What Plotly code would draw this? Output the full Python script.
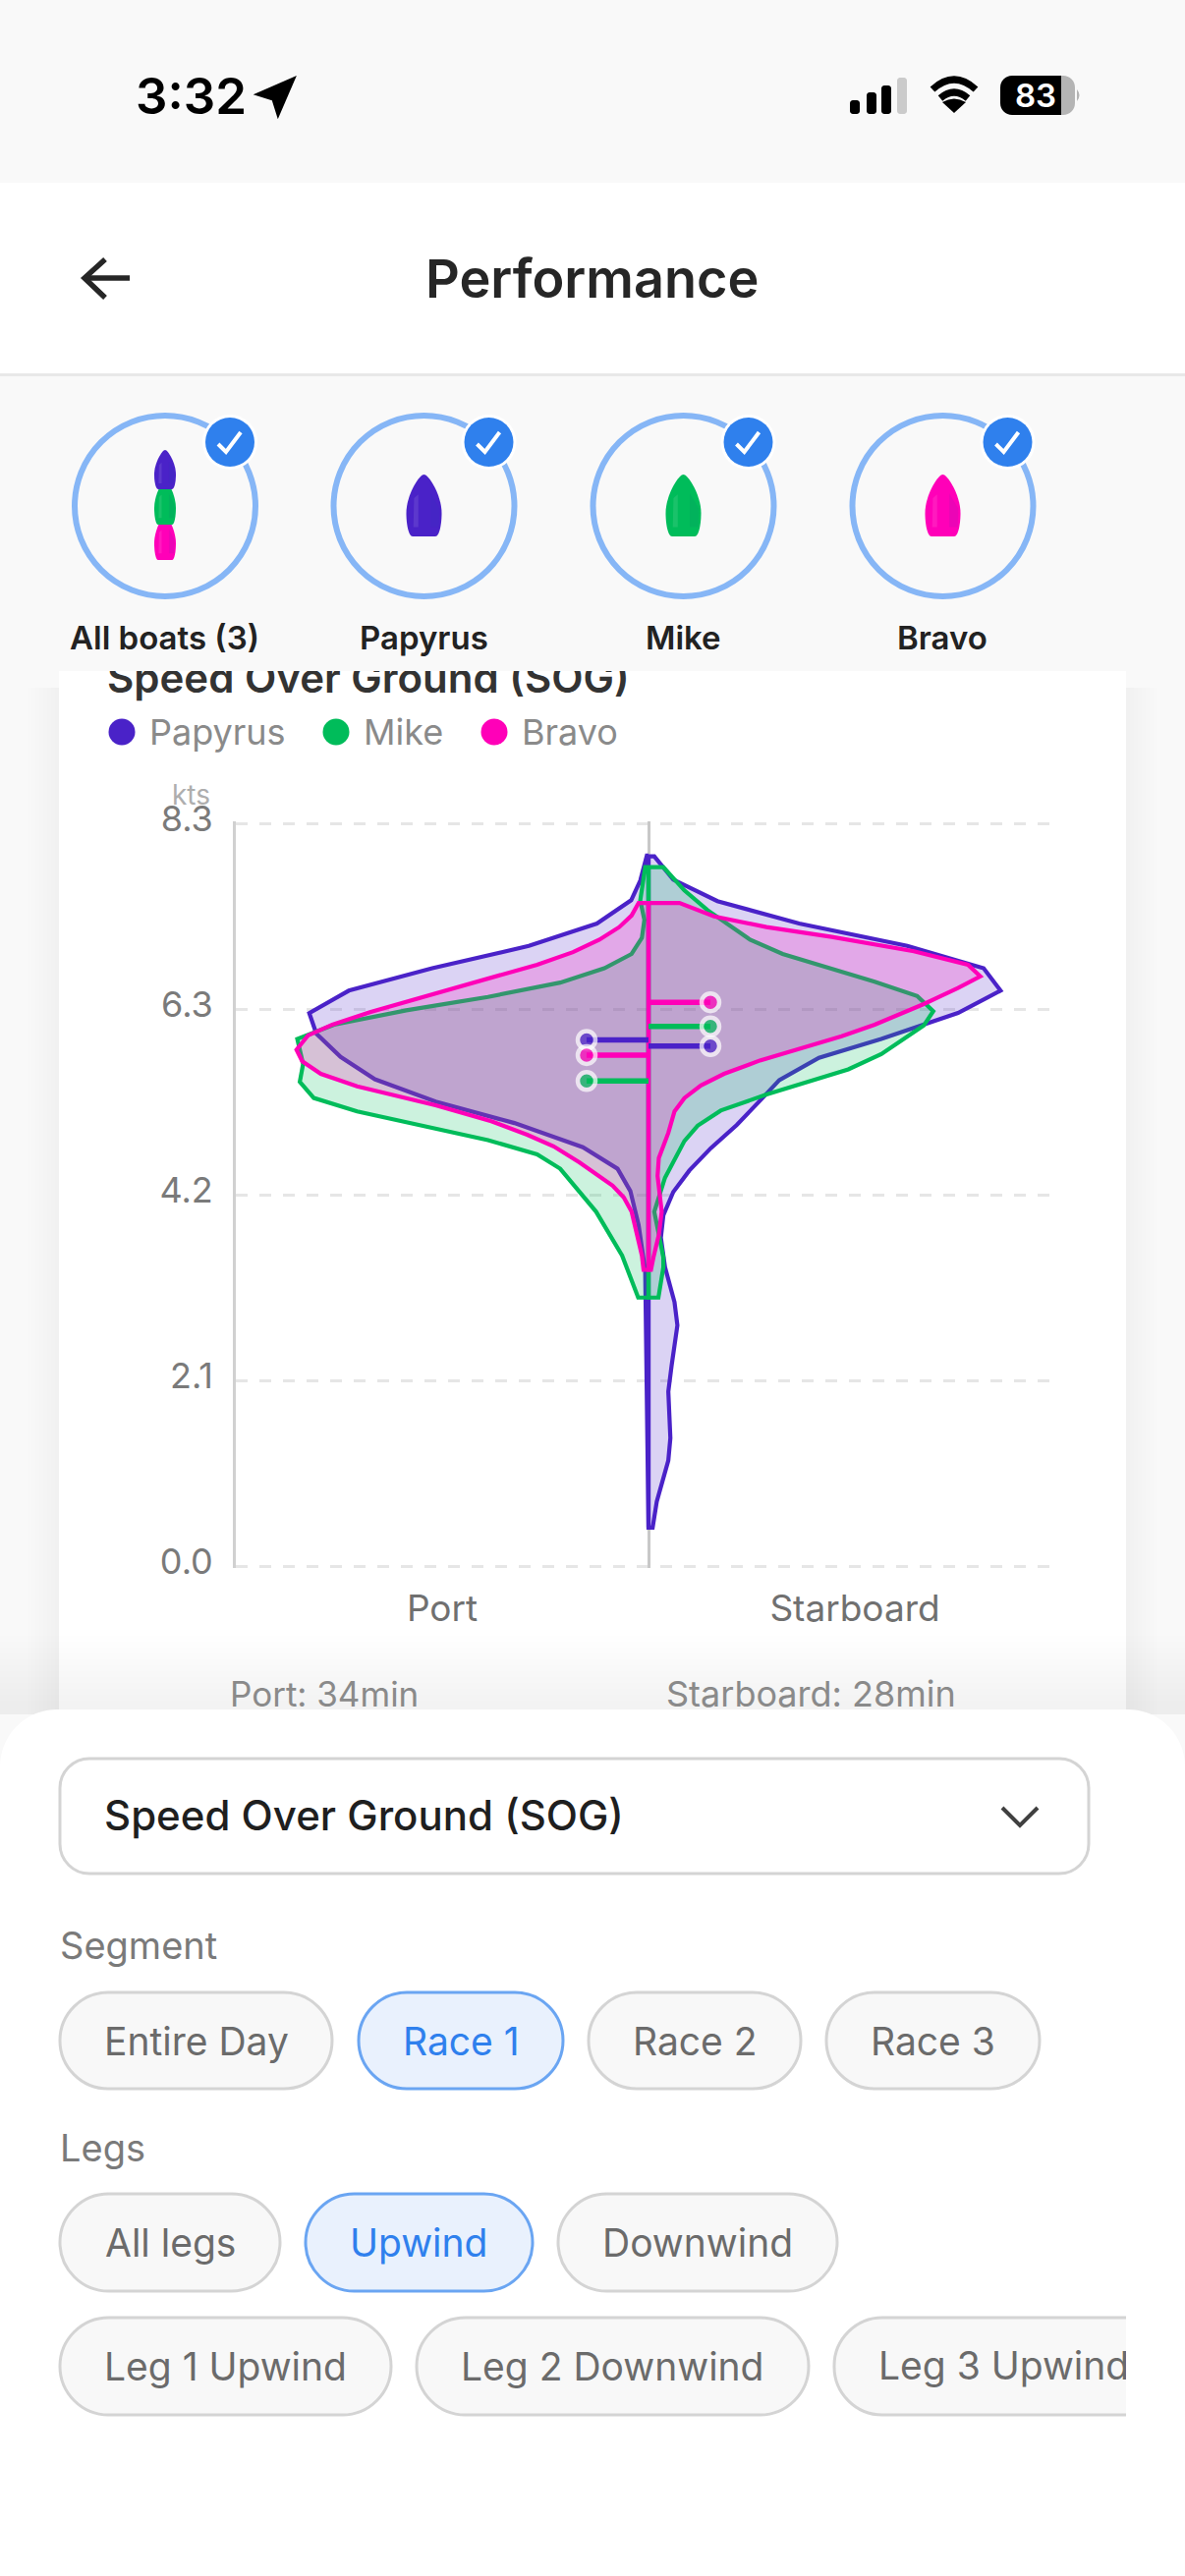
import plotly.graph_objects as go

W = 1206
H = 2622

# Violin outlines: speed in kts and density in % of half width
papyrus_port_kts = [7.94, 7.66, 7.44, 7.18, 6.93, 6.68, 6.43, 6.18, 5.95, 5.69, 5.44, 5.19, 4.95, 4.68, 4.44, 4.19, 3.81, 3.30, 0.43]
papyrus_port_den = [0.4, 2.0, 4.2, 12.5, 29.0, 52.4, 72.6, 82.2, 80.5, 74.6, 66.3, 51.6, 32.5, 15.9, 7.5, 4.4, 2.4, 0.8, 0.2]
papyrus_stbd_kts = [7.93, 7.67, 7.43, 7.18, 6.93, 6.68, 6.43, 6.18, 5.89, 5.68, 5.43, 5.20, 4.93, 4.67, 4.42, 4.18, 3.92, 3.67, 3.34, 2.95, 2.69, 2.24, 1.95, 1.43, 1.18, 0.72, 0.43]
papyrus_stbd_den = [1.4, 6.0, 16.7, 36.5, 62.7, 81.2, 85.3, 75.0, 56.4, 41.3, 31.7, 27.0, 21.4, 15.1, 9.9, 6.0, 3.6, 3.0, 4.0, 6.3, 7.0, 5.6, 4.8, 5.3, 4.8, 2.0, 1.0]

mike_port_kts = [7.81, 7.44, 7.22, 7.02, 6.84, 6.68, 6.52, 6.36, 6.21, 6.05, 5.89, 5.61, 5.41, 5.23, 5.08, 4.76, 4.60, 4.44, 3.96, 3.47, 3.00]
mike_port_den = [0.8, 2.0, 1.0, 1.6, 4.1, 10.7, 21.4, 38.9, 58.7, 76.2, 85.1, 83.7, 84.5, 81.1, 70.6, 38.9, 27.0, 21.4, 12.7, 6.4, 2.5]
mike_stbd_kts = [7.81, 7.55, 7.33, 7.00, 6.84, 6.53, 6.37, 6.20, 6.04, 5.72, 5.55, 5.27, 5.09, 4.92, 4.75, 4.34, 3.96, 3.45, 3.34, 3.00]
mike_stbd_den = [3.6, 8.7, 14.3, 24.6, 32.5, 54.8, 65.1, 69.0, 66.7, 56.4, 48.4, 28.6, 17.5, 11.9, 8.7, 4.0, 1.4, 3.6, 3.6, 2.4]

bravo_port_kts = [7.41, 7.27, 7.14, 7.00, 6.86, 6.72, 6.54, 6.19, 6.05, 5.93, 5.77, 5.64, 5.50, 5.36, 5.15, 4.97, 4.82, 4.69, 4.51, 4.25, 4.12, 3.96, 3.47, 3.31]
bravo_port_den = [2.4, 4.1, 7.1, 11.9, 18.3, 27.0, 40.5, 67.5, 76.6, 82.5, 85.3, 83.9, 79.4, 70.6, 51.6, 38.1, 29.4, 23.0, 16.7, 8.7, 6.0, 4.1, 1.6, 1.2]
bravo_stbd_kts = [7.41, 7.26, 7.14, 7.03, 6.87, 6.72, 6.59, 6.46, 6.28, 6.05, 5.92, 5.65, 5.50, 5.37, 5.23, 5.08, 4.84, 4.56, 4.36, 3.96, 3.70, 3.45, 3.31]
bravo_stbd_den = [7.5, 15.9, 28.6, 44.4, 64.3, 77.4, 80.4, 75.0, 66.7, 54.8, 46.8, 27.0, 18.3, 12.7, 8.7, 6.3, 4.8, 2.5, 2.2, 3.2, 2.5, 1.2, 0.6]

# Mean speed per tack
boats = ["Papyrus", "Mike", "Bravo"]
port_means = [5.88, 5.42, 5.71]
stbd_means = [5.81, 6.03, 6.30]
mean_stem = [15.0, 15.0, 15.0]

y_ticks = [0, 2.075, 4.15, 6.225, 8.3]
y_labels = ["0.0", "2.1", "4.2", "6.3", "8.3"]
x_labels = ["Port", "Starboard"]

COLORS = {"Papyrus": "#4A22C8", "Mike": "#00BC5A", "Bravo": "#FF00B8"}
FILLS = {
    "Papyrus": "rgba(74,34,200,0.2)",
    "Mike": "rgba(0,188,90,0.2)",
    "Bravo": "rgba(255,0,184,0.2)",
}

outlines = {
    "Papyrus": (papyrus_port_kts, papyrus_port_den, papyrus_stbd_kts, papyrus_stbd_den),
    "Mike": (mike_port_kts, mike_port_den, mike_stbd_kts, mike_stbd_den),
    "Bravo": (bravo_port_kts, bravo_port_den, bravo_stbd_kts, bravo_stbd_den),
}


# Pixel position on the page to paper coordinates
def px(x):
    return x / W


def py(y):
    return 1 - y / H


shapes = []
annotations = []


def rect(x0, y0, x1, y1, fill, opacity=1):
    shapes.append(dict(type="rect", xref="paper", yref="paper", x0=px(x0), x1=px(x1), y0=py(y0), y1=py(y1),
                       fillcolor=fill, opacity=opacity, line=dict(width=0), layer="below"))


def circle(cx, cy, r, fill="rgba(0,0,0,0)", line=None, width=0):
    shapes.append(dict(type="circle", xref="paper", yref="paper", x0=px(cx - r), x1=px(cx + r), y0=py(cy + r), y1=py(cy - r),
                       fillcolor=fill, line=dict(color=line, width=width), layer="below"))


def path(points, fill=None, line=None, width=0, opacity=1):
    # points is a list of svg commands, each a letter and its pixel pairs
    d = ""
    for cmd in points:
        d += cmd[0]
        for x, y in cmd[1:]:
            d += f" {px(x):.6f} {py(y):.6f} "
    if fill:
        d += "Z"
    shapes.append(dict(type="path", xref="paper", yref="paper", path=d, fillcolor=fill or "rgba(0,0,0,0)", opacity=opacity,
                       line=dict(color=line, width=width), layer="below"))


def rrect(x0, y0, x1, y1, r, fill, line=None, width=0, top_only=False):
    k = r * 0.45
    cmds = [("M", (x0 + r, y0)), ("L", (x1 - r, y0)), ("C", (x1 - k, y0), (x1, y0 + k), (x1, y0 + r))]
    if top_only:
        cmds += [("L", (x1, y1)), ("L", (x0, y1))]
    else:
        cmds += [("L", (x1, y1 - r)), ("C", (x1, y1 - k), (x1 - k, y1), (x1 - r, y1)),
                 ("L", (x0 + r, y1)), ("C", (x0 + k, y1), (x0, y1 - k), (x0, y1 - r))]
    cmds += [("L", (x0, y0 + r)), ("C", (x0, y0 + k), (x0 + k, y0), (x0 + r, y0))]
    path(cmds, fill=fill, line=line, width=width)


def label(x, y, text, size, color, anchor="center", weight=400):
    annotations.append(dict(xref="paper", yref="paper", x=px(x), y=py(y), text=text, showarrow=False,
                            xanchor=anchor, yanchor="middle", borderpad=0,
                            font=dict(family="Inter", size=size, color=color, weight=weight)))


def boat_icon(cx, top, w, h, color, shade):
    cmds = [("M", (cx, top)),
            ("C", (cx + 0.14 * w, top), (cx + 0.5 * w, top + 0.34 * h), (cx + 0.5 * w, top + 0.62 * h)),
            ("C", (cx + 0.5 * w, top + 0.8 * h), (cx + 0.44 * w, top + h), (cx + 0.32 * w, top + h)),
            ("L", (cx - 0.32 * w, top + h)),
            ("C", (cx - 0.44 * w, top + h), (cx - 0.5 * w, top + 0.8 * h), (cx - 0.5 * w, top + 0.62 * h)),
            ("C", (cx - 0.5 * w, top + 0.34 * h), (cx - 0.14 * w, top), (cx, top))]
    path(cmds, fill=color)
    # soft highlight on the left side of the hull
    path([("M", (cx - 0.28 * w, top + 0.38 * h)), ("L", (cx - 0.16 * w, top + 0.32 * h)),
          ("L", (cx - 0.16 * w, top + 0.85 * h)), ("L", (cx - 0.3 * w, top + 0.85 * h))],
         fill="#FFFFFF", opacity=0.1)
    # darker strip on the right side
    path([("M", (cx + 0.18 * w, top + 0.3 * h)), ("L", (cx + 0.44 * w, top + 0.55 * h)),
          ("L", (cx + 0.42 * w, top + 0.85 * h)), ("L", (cx + 0.18 * w, top + 0.85 * h))],
         fill=shade, opacity=0.15)


# Page sections
rect(0, 186, W, 380, "#FFFFFF")
rect(0, 380, W, 383, "#E8E8E8")

# Soft shadow around the card, then the card itself
for i in range(1, 9):
    rect(60 - 4 * i, 700, 1146 + 4 * i, 1745, "#000000", 0.004)
rect(60, 683, 1146, 1745, "#FFFFFF")
for i in range(12):
    rect(0, 1665 + i * 6, W, 1745, "#000000", 0.004)

# Status bar
label(194, 98, "3:32", 51, "#000000", weight=600)
path([("M", (299, 80)), ("L", (262, 96)), ("L", (278, 101)), ("L", (283, 117))], fill="#000000", line="#000000", width=3)
rrect(865, 102, 875, 116, 3, "#000000")
rrect(882, 94, 892, 116, 3, "#000000")
rrect(897, 87, 907, 116, 3, "#000000")
rrect(913, 79, 923, 116, 3, "#CBCBCB")
path([("M", (949, 91)), ("Q", (971, 71), (993, 91))], line="#000000", width=7)
path([("M", (957, 100)), ("Q", (971, 88), (985, 100))], line="#000000", width=7)
path([("M", (971, 115)), ("L", (959, 104)), ("Q", (971, 97), (983, 104))], fill="#000000")
rrect(1040, 77, 1094, 117, 12, "#B4B4B4")
rrect(1018, 77, 1068, 117, 12, "#000000")
rect(1050, 77, 1080, 117, "#000000")
path([("M", (1096, 91)), ("Q", (1101, 97), (1096, 103))], fill="#B4B4B4")
label(1054, 97, "83", 33, "#FFFFFF", weight=600)

# Header
path([("M", (107, 264)), ("L", (86, 283)), ("L", (107, 303))], line="#262626", width=5.5)
path([("M", (86, 283)), ("L", (132, 283))], line="#262626", width=5.5)
label(602, 283, "Performance", 54, "#262626", weight=600)

# Boat selector row
selector_names = ["All boats (3)", "Papyrus", "Mike", "Bravo"]
selector_x = [168, 431.5, 695.5, 959.5]
for name, cx in zip(selector_names, selector_x):
    circle(cx, 515, 92, line="#86B6F6", width=6)
    circle(cx + 66, 450, 28, fill="#FFFFFF")
    circle(cx + 66, 450, 25, fill="#2F80ED")
    path([("M", (cx + 54, 452)), ("L", (cx + 62, 460)), ("L", (cx + 77, 440))], line="#FFFFFF", width=4)
    label(cx - 0.5, 649, name, 33, "#222222", weight=600)
boat_icon(168, 525, 22, 45, COLORS["Bravo"], "#7A1FB0")
boat_icon(168, 489, 22, 45, COLORS["Mike"], "#0B7A6A")
boat_icon(168, 458, 22, 40, COLORS["Papyrus"], "#2A3DB8")
boat_icon(431.5, 483, 36, 63, COLORS["Papyrus"], "#2A3DB8")
boat_icon(695.5, 483, 36, 63, COLORS["Mike"], "#0B7A6A")
boat_icon(959.5, 483, 36, 63, COLORS["Bravo"], "#7A1FB0")

# Card legend and footer texts
legend_dot_x = [124, 342, 503]
legend_text_x = [150.5, 368.5, 529.5]
for name, dot_x, text_x in zip(boats, legend_dot_x, legend_text_x):
    circle(dot_x, 745, 13.5, fill=COLORS[name])
    label(text_x, 745, name, 36, "#8A8A8A", anchor="left")
label(215, 809, "kts", 28, "#AEAEAE", anchor="right")
label(330, 1724, "Port: 34min", 35, "#8A8A8A")
label(825, 1724, "Starboard: 28min", 36, "#8A8A8A")

# Bottom sheet
rrect(0, 1740, W, H + 5, 58, "#FFFFFF", top_only=True)
rrect(61, 1790, 1108, 1907, 30, "#FFFFFF", line="#D4D4D4", width=3)
label(105, 1848, "Speed Over Ground (SOG)", 42, "#1F1F1F", anchor="left", weight=450)
path([("M", (1020, 1840)), ("L", (1038, 1858)), ("L", (1056, 1840))], line="#404040", width=4)
label(60, 1980, "Segment", 38, "#7A7A7A", anchor="left", weight=400)
label(60, 2186, "Legs", 38, "#7A7A7A", anchor="left", weight=400)

pills = [
    ("Entire Day", 61, 338, 2028, 2126, False),
    ("Race 1", 365, 573, 2028, 2126, True),
    ("Race 2", 599, 815, 2028, 2126, False),
    ("Race 3", 841, 1058, 2028, 2126, False),
    ("All legs", 61, 285, 2233, 2332, False),
    ("Upwind", 311, 542, 2233, 2332, True),
    ("Downwind", 568, 852, 2233, 2332, False),
    ("Leg 1 Upwind", 61, 398, 2359, 2458, False),
    ("Leg 2 Downwind", 424, 823, 2359, 2458, False),
]
for text, x0, x1, y0, y1, selected in pills:
    r = (y1 - y0) / 2
    if selected:
        rrect(x0, y0, x1, y1, r, "#E9F1FD", line="#6AA5F2", width=3)
    else:
        rrect(x0, y0, x1, y1, r, "#F8F8F8", line="#D4D4D4", width=3)
    label((x0 + x1) / 2, (y0 + y1) / 2, text, 39, "#2F80ED" if selected else "#6B6B6B", weight=400)

# Last pill runs off the scroller on the right
rrect(849, 2359, 1300, 2458, 49, "#F8F8F8", line="#D4D4D4", width=3)
rect(1146, 2350, W, 2470, "#FFFFFF")

fig = go.Figure()

# Violins, two polygons per boat that close along the centre line
for name in boats:
    port_kts, port_den, stbd_kts, stbd_den = outlines[name]
    fig.add_trace(
        go.Scatter(
            x=[0] + [-d for d in port_den] + [0, 0],
            y=[port_kts[0]] + port_kts + [port_kts[-1], port_kts[0]],
            mode="lines",
            name=name,
            fill="toself",
            fillcolor=FILLS[name],
            line=dict(color=COLORS[name], width=4.2),
            hoverinfo="skip",
        )
    )
    fig.add_trace(
        go.Scatter(
            x=[0] + stbd_den + [0, 0],
            y=[stbd_kts[0]] + stbd_kts + [stbd_kts[-1], stbd_kts[0]],
            mode="lines",
            name=name,
            fill="toself",
            fillcolor=FILLS[name],
            line=dict(color=COLORS[name], width=4.2),
            hoverinfo="skip",
        )
    )

# Mean markers on short stems
for side, means in ((-1, port_means), (1, stbd_means)):
    for name, mean, stem in zip(boats, means, mean_stem):
        fig.add_trace(
            go.Scatter(
                x=[0, side * stem],
                y=[mean, mean],
                mode="lines+markers",
                line=dict(color=COLORS[name], width=5.5),
                marker=dict(size=[0, 18], color=COLORS[name], line=dict(color="#FFFFFF", width=4.5)),
                hoverinfo="skip",
            )
        )

# Texts that are cut off by the card edges, clipped by a hidden overlay subplot
fig.add_trace(
    go.Scatter(
        x=[109, 894],
        y=[694, 2412],
        mode="text",
        text=["Speed Over Ground (SOG)", "Leg 3 Upwind"],
        textposition="middle right",
        textfont=dict(family="Inter", size=[42, 39], color=["#333333", "#6B6B6B"], weight=[600, 400]),
        xaxis="x2",
        yaxis="y2",
        hoverinfo="skip",
    )
)

fig.update_layout(
    width=W,
    height=H,
    autosize=False,
    margin=dict(l=0, r=0, t=0, b=0, pad=0, autoexpand=False),
    paper_bgcolor="#F9F9F9",
    plot_bgcolor="rgba(0,0,0,0)",
    showlegend=False,
    hovermode=False,
    font=dict(family="Inter"),
    shapes=shapes,
    annotations=annotations,
    xaxis=dict(
        domain=[px(240), px(1080)],
        range=[-100, 100],
        tickvals=[-50, 50],
        ticktext=x_labels,
        showgrid=False,
        showline=False,
        zeroline=True,
        zerolinecolor="#C8C8C8",
        zerolinewidth=3,
        ticks="",
        ticklabelstandoff=16,
        tickfont=dict(family="Inter", size=37, color="#707070"),
        fixedrange=True,
    ),
    yaxis=dict(
        # a hair wider than the ticks so the first and last gridline are kept
        domain=[py(1596), py(836)],
        range=[-0.022, 8.322],
        tickvals=y_ticks,
        ticktext=y_labels,
        showgrid=True,
        gridcolor="#E6E6E6",
        gridwidth=3,
        griddash="12px,12px",
        zeroline=False,
        showline=True,
        linecolor="#D0D0D0",
        linewidth=3,
        ticks="",
        ticklabelstandoff=13,
        ticklabelshift=-5,
        tickfont=dict(family="Inter", size=36, color="#7A7A7A"),
        fixedrange=True,
    ),
    xaxis2=dict(domain=[px(60), px(1146)], range=[60, 1146], visible=False, anchor="y2", fixedrange=True),
    yaxis2=dict(domain=[py(2622), py(683)], range=[2622, 683], visible=False, anchor="x2", fixedrange=True),
)

fig.write_html(
    "out.html",
    config=dict(displayModeBar=False),
    post_script="document.body.style.margin='0';document.body.style.overflow='hidden';",
)
